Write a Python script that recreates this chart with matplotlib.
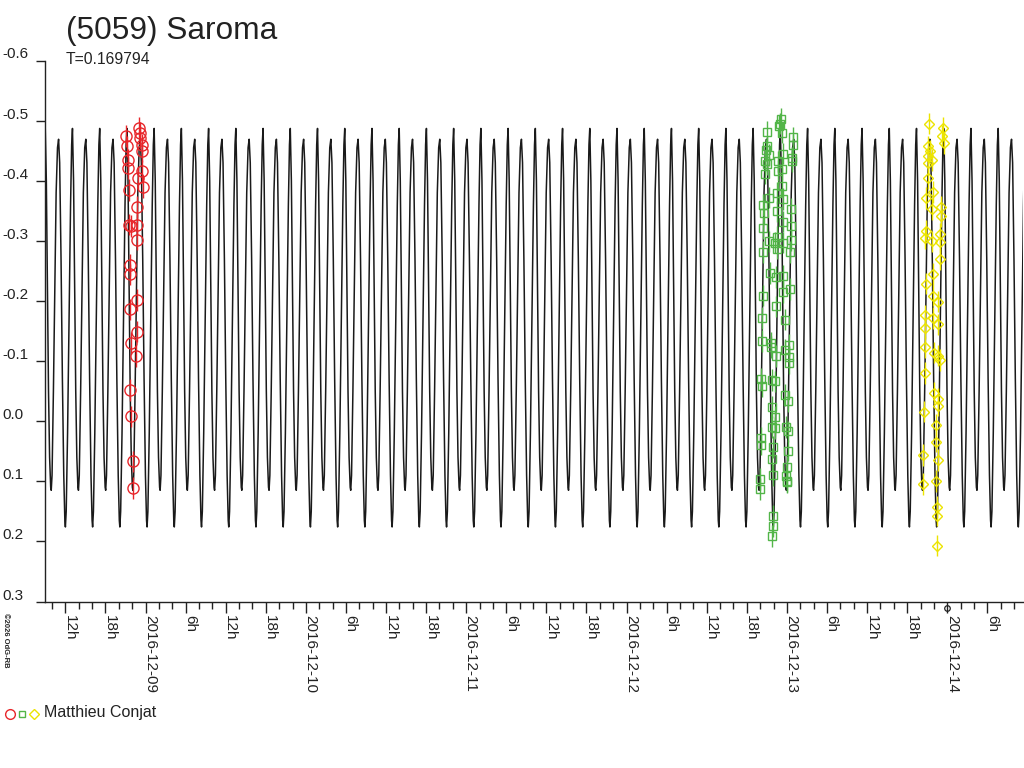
import numpy as np
import matplotlib
matplotlib.use('Agg')
import matplotlib.pyplot as plt
import matplotlib.dates as mdates
from matplotlib.lines import Line2D
from matplotlib.ticker import FuncFormatter
from matplotlib import transforms

plt.rcParams['font.family'] = ['Liberation Sans', 'DejaVu Sans']

# light curve model: period (days) and one period of the shape (phase, relative mag)
period = 0.169794
epoch = '2016-12-08T13:04'   # time of the brighter maximum
profile_phase = [0.00, 0.04, 0.08, 0.12, 0.16, 0.20, 0.22, 0.25, 0.30, 0.35, 0.40, 0.45,
                 0.49, 0.53, 0.58, 0.63, 0.68, 0.72, 0.74, 0.77, 0.82, 0.88, 0.93, 0.97]
profile_mag = [-0.487, -0.40, -0.22, -0.05, 0.06, 0.110, 0.115, 0.09, -0.05, -0.22, -0.38, -0.455,
               -0.469, -0.43, -0.27, -0.07, 0.09, 0.165, 0.176, 0.15, 0.02, -0.18, -0.36, -0.46]

# observations, times in hours after 00:00 UT of the given day
red_day = '2016-12-08'
red_hours = [21.05, 23.04, 23.15, 23.15, 21.16, 23.40, 23.40, 21.40, 21.40, 23.40,
             22.89, 23.55, 21.55, 22.65, 21.55, 22.65, 21.90, 22.65, 21.65, 21.65,
             22.65, 21.75, 22.65, 21.90, 22.55, 21.75, 21.90, 22.14, 22.14]
red_mag = [-0.474, -0.488, -0.480, -0.471, -0.457, -0.460, -0.449, -0.435, -0.421, -0.416,
           -0.405, -0.390, -0.385, -0.356, -0.327, -0.327, -0.325, -0.302, -0.260, -0.244,
           -0.202, -0.186, -0.149, -0.130, -0.108, -0.052, -0.008, 0.067, 0.111]

green_day = '2016-12-12'
green_hours = [23.04, 22.94, 22.83, 20.95, 23.19, 24.84, 24.93, 21.04, 20.84, 21.34,
               23.34, 20.69, 24.69, 22.68, 21.04, 24.69, 23.19, 22.68, 20.69, 23.19,
               22.53, 21.25, 23.34, 20.44, 24.54, 20.54, 22.53, 23.34, 24.54, 20.44,
               22.44, 21.34, 23.43, 24.54, 22.19, 22.53, 20.35, 24.43, 21.44, 22.34,
               23.43, 24.43, 23.43, 20.35, 22.34, 20.20, 23.69, 20.20, 21.55, 21.55,
               24.24, 22.34, 23.69, 24.24, 24.33, 20.05, 20.24, 21.70, 22.19, 23.69,
               24.18, 21.70, 22.19, 20.05, 20.05, 21.70, 22.19, 23.84, 24.18, 21.93,
               24.18, 21.70, 23.94, 21.93, 23.84, 23.94, 19.94, 19.94, 23.94, 21.93,
               21.93, 21.84]
green_mag = [-0.503, -0.495, -0.491, -0.481, -0.480, -0.472, -0.460, -0.457, -0.451, -0.443,
             -0.445, -0.433, -0.433, -0.432, -0.428, -0.438, -0.420, -0.417, -0.412, -0.391,
             -0.380, -0.372, -0.370, -0.360, -0.353, -0.346, -0.349, -0.332, -0.324, -0.321,
             -0.307, -0.299, -0.297, -0.301, -0.297, -0.287, -0.281, -0.281, -0.247, -0.240,
             -0.241, -0.220, -0.215, -0.209, -0.191, -0.172, -0.169, -0.133, -0.130, -0.123,
             -0.127, -0.108, -0.119, -0.107, -0.097, -0.070, -0.058, -0.068, -0.066, -0.044,
             -0.033, -0.024, -0.007, 0.028, 0.039, 0.010, 0.011, 0.010, 0.017, 0.043,
             0.049, 0.063, 0.076, 0.090, 0.091, 0.100, 0.096, 0.113, 0.102, 0.158,
             0.175, 0.191]

yellow_day = '2016-12-13'
yellow_hours = [21.28, 23.38, 23.23, 23.53, 21.04, 21.39, 21.04, 21.64, 21.13, 21.04,
                21.88, 20.89, 21.64, 23.03, 23.03, 20.89, 20.74, 22.88, 21.64, 22.88,
                22.88, 21.88, 20.89, 21.88, 22.63, 20.74, 21.88, 20.74, 22.63, 20.74,
                22.03, 22.54, 22.88, 20.64, 22.03, 22.63, 22.63, 20.53, 22.24, 22.24,
                22.54, 20.39, 20.39, 22.24, 22.39, 22.39, 22.39]
yellow_mag = [-0.495, -0.488, -0.474, -0.463, -0.457, -0.449, -0.441, -0.435, -0.430, -0.405,
              -0.381, -0.371, -0.353, -0.356, -0.341, -0.317, -0.305, -0.312, -0.299, -0.298,
              -0.270, -0.245, -0.229, -0.209, -0.199, -0.176, -0.172, -0.155, -0.161, -0.123,
              -0.114, -0.109, -0.102, -0.080, -0.047, -0.037, -0.026, -0.016, 0.006, 0.034,
              0.065, 0.056, 0.104, 0.100, 0.143, 0.157, 0.207]

mag_err = 0.018
observer = 'Matthieu Conjat'
x_start = '2016-12-08T09:00'
x_end = '2016-12-14T11:20'
y_ticks = [-0.6, -0.5, -0.4, -0.3, -0.2, -0.1, 0.0, 0.1, 0.2, 0.3]

RED = '#e8262a'
GREEN = '#52b548'
YELLOW = '#ece400'
INK = '#222222'


def day_num(day, hours):
    return mdates.date2num(np.datetime64(day)) + np.asarray(hours) / 24.0


W, H = 1024, 768
fig = plt.figure(figsize=(W / 100, H / 100), dpi=100)
ax = fig.add_axes([45.3 / W, 1 - 601.5 / H, (1023 - 45.3) / W, (601.5 - 60.5) / H])

x0 = mdates.date2num(np.datetime64(x_start))
x1 = mdates.date2num(np.datetime64(x_end))
t_epoch = mdates.date2num(np.datetime64(epoch))

# model curve, one profile per rotation
k_first = int(np.floor((x0 - t_epoch) / period)) - 1
k_last = int(np.ceil((x1 - t_epoch) / period)) + 1
ct, cm = [], []
for k in range(k_first, k_last):
    for ph, m in zip(profile_phase, profile_mag):
        ct.append(t_epoch + (k + ph) * period)
        cm.append(m)
ax.plot(ct, cm, color='#1a1a1a', lw=1.1, zorder=2)

# observations
ax.errorbar(day_num(red_day, red_hours), red_mag, yerr=mag_err, fmt='o', ms=8,
            mfc='none', mec=RED, mew=1.0, ecolor=RED, elinewidth=1.0, capsize=0, zorder=3)
ax.errorbar(day_num(green_day, green_hours), green_mag, yerr=mag_err, fmt='s', ms=5.2,
            mfc='none', mec=GREEN, mew=1.0, ecolor=GREEN, elinewidth=1.0, capsize=0, zorder=3)
ax.errorbar(day_num(yellow_day, yellow_hours), yellow_mag, yerr=mag_err, fmt='D', ms=4.6,
            mfc='none', mec=YELLOW, mew=1.0, ecolor=YELLOW, elinewidth=1.0, capsize=0, zorder=3)

ax.set_xlim(x0, x1)
ax.set_ylim(0.3, -0.6)

for s in ['top', 'right']:
    ax.spines[s].set_visible(False)
for s in ['left', 'bottom']:
    ax.spines[s].set_color(INK)
    ax.spines[s].set_linewidth(1.0)

# y axis: ticks outwards, labels drawn above each tick at the far left
ax.set_yticks(y_ticks)
ax.tick_params(axis='y', direction='out', length=6.5, width=1.0, color=INK, labelleft=False)
lab_tr = transforms.offset_copy(
    transforms.blended_transform_factory(fig.transFigure, ax.transData),
    fig=fig, x=0, y=2, units='dots')
for v in y_ticks:
    ax.text(2 / W, v, f'{v:.1f}', transform=lab_tr, ha='left', va='baseline',
            fontsize=11, color=INK)

# x axis: 6h labelled ticks, 2h minor ticks
ax.xaxis.set_major_locator(mdates.HourLocator(byhour=[0, 6, 12, 18]))
ax.xaxis.set_minor_locator(mdates.HourLocator(byhour=range(0, 24, 2)))


def fmt_time(x, pos):
    d = mdates.num2date(x)
    if d.hour == 0:
        return d.strftime('%Y-%m-%d')
    return f'{d.hour}h'


ax.xaxis.set_major_formatter(FuncFormatter(fmt_time))
ax.tick_params(axis='x', which='major', direction='out', length=8, width=1.0, color=INK,
               labelsize=11, labelcolor=INK, pad=2)
ax.tick_params(axis='x', which='minor', direction='out', length=5, width=1.0, color=INK)
shift = transforms.ScaledTranslation(-2.5 / 100, 0, fig.dpi_scale_trans)
for lab in ax.get_xticklabels():
    lab.set_rotation(-90)
    lab.set_ha('left')
    lab.set_va('top')
    lab.set_transform(lab.get_transform() + shift)

# small ring on the last date tick
ax.plot([mdates.date2num(np.datetime64('2016-12-14'))], [0.31], marker='o', ms=4,
        mfc='none', mec=INK, mew=0.9, clip_on=False, zorder=4)

# titles
fig.text(66 / W, 1 - 39 / H, '(5059) Saroma', fontsize=22.8, color=INK, va='baseline')
fig.text(66 / W, 1 - 64 / H, f'T={period}', fontsize=11.3, color=INK, va='baseline')
fig.text(5 / W, 1 - 613 / H, '\u00a92026 OdG-RB', fontsize=5.5, color=INK, rotation=-90,
         ha='center', va='top', fontweight='bold')

# legend row
ly = 1 - 714 / H
fig.add_artist(Line2D([9.5 / W], [ly], marker='o', ms=7, mfc='none', mec=RED, mew=1.0,
                      transform=fig.transFigure))
fig.add_artist(Line2D([21.5 / W], [ly], marker='s', ms=5, mfc='none', mec=GREEN, mew=1.0,
                      transform=fig.transFigure))
fig.add_artist(Line2D([33.5 / W], [ly], marker='D', ms=5, mfc='none', mec=YELLOW, mew=1.0,
                      transform=fig.transFigure))
fig.text(44 / W, 1 - 712.5 / H, observer, fontsize=11.5, color=INK, va='center')

fig.savefig('out.png', dpi=100)
